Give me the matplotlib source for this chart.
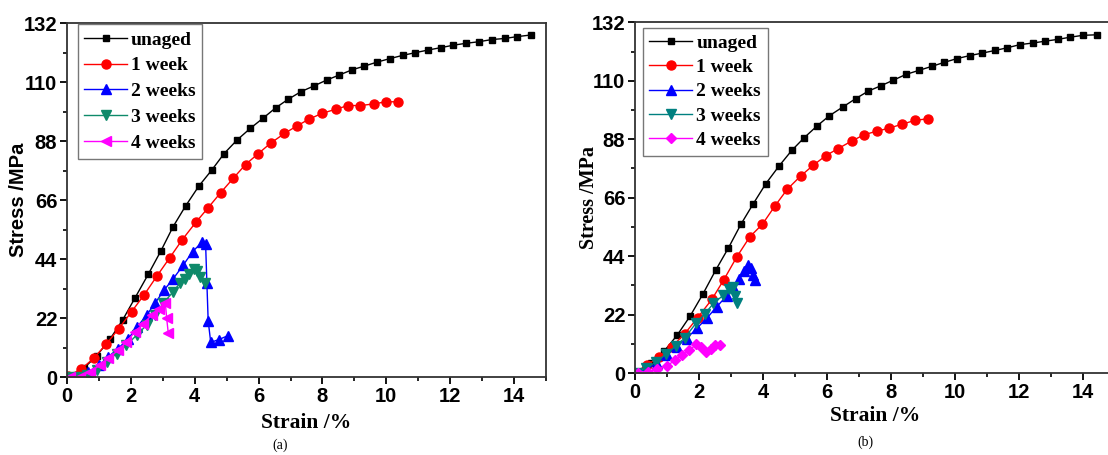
import matplotlib
matplotlib.use("Agg")
import matplotlib.pyplot as plt
from matplotlib.ticker import MultipleLocator

# ---- panel (a) data ----
a_unaged_x = [0.0, 0.13, 0.53, 0.93, 1.34, 1.74, 2.13, 2.54, 2.94, 3.32, 3.71, 4.13, 4.53, 4.92, 5.32,
              5.74, 6.14, 6.53, 6.92, 7.33, 7.73, 8.13, 8.53, 8.92, 9.31, 9.71, 10.11, 10.51,
              10.90, 11.31, 11.71, 12.10, 12.49, 12.90, 13.30, 13.70, 14.10, 14.52]
a_unaged_y = [0.0, 0.6, 3.4, 8.0, 14.1, 21.3, 29.6, 38.3, 47.1, 56.1, 63.8, 71.3, 77.2, 83.4, 88.4,
              92.8, 96.6, 100.4, 103.6, 106.5, 108.6, 110.8, 112.7, 114.6, 116.0, 117.5, 118.8, 120.0,
              121.0, 122.0, 122.9, 123.8, 124.5, 125.1, 125.9, 126.3, 127.0, 127.6]
a_w1_x = [0.04, 0.44, 0.83, 1.22, 1.62, 2.02, 2.42, 2.82, 3.22, 3.61, 4.03, 4.42, 4.81, 5.20,
          5.59, 5.99, 6.38, 6.81, 7.20, 7.59, 7.99, 8.41, 8.80, 9.19, 9.60, 9.99, 10.38]
a_w1_y = [0.5, 3.0, 7.0, 12.2, 18.1, 24.4, 30.8, 37.8, 44.6, 51.3, 57.7, 63.2, 68.8, 74.1,
          79.3, 83.4, 87.3, 90.9, 93.7, 96.3, 98.4, 99.9, 101.3, 101.3, 101.9, 102.7, 102.7]
a_w2_x = [0.05, 0.35, 0.67, 1.00, 1.29, 1.60, 1.92, 2.20, 2.49, 2.75, 3.04, 3.33, 3.64, 3.93,
          4.24, 4.34, 4.38, 4.42, 4.50, 4.75, 5.04]
a_w2_y = [0.0, 0.1, 2.0, 4.5, 7.6, 10.7, 14.4, 18.8, 23.1, 27.5, 32.5, 36.8, 41.8, 46.8,
          50.5, 49.5, 35.0, 21.0, 13.0, 14.0, 15.5]
a_w3_x = [0.05, 0.35, 0.62, 0.93, 1.24, 1.55, 1.86, 2.18, 2.49, 2.75, 3.01, 3.32, 3.53, 3.70,
          3.82, 3.97, 4.08, 4.16, 4.31]
a_w3_y = [0.0, 0.1, 0.7, 2.8, 5.7, 8.8, 11.9, 15.7, 19.4, 23.1, 27.5, 31.8, 35.0, 36.5,
          38.5, 40.3, 39.5, 37.4, 35.0]
a_w4_x = [0.10, 0.40, 0.72, 1.03, 1.29, 1.60, 1.86, 2.13, 2.39, 2.65, 2.89, 3.08, 3.12, 3.17]
a_w4_y = [0.0, 0.1, 2.0, 4.5, 7.0, 10.1, 13.2, 16.9, 20.0, 23.1, 25.6, 27.5, 22.0, 16.5]

# ---- panel (b) data ----
b_unaged_x = [0.05, 0.50, 0.92, 1.32, 1.72, 2.12, 2.52, 2.92, 3.31, 3.70, 4.09, 4.50, 4.90, 5.29,
              5.68, 6.07, 6.49, 6.90, 7.29, 7.68, 8.07, 8.47, 8.87, 9.27, 9.66, 10.05, 10.47,
              10.85, 11.25, 11.63, 12.03, 12.43, 12.82, 13.23, 13.60, 14.00, 14.43]
b_unaged_y = [0.5, 3.9, 8.4, 14.3, 21.4, 29.7, 38.7, 47.1, 56.0, 63.8, 71.3, 77.9, 83.8, 88.6,
              92.9, 96.8, 100.1, 103.3, 106.1, 108.1, 110.2, 112.4, 113.9, 115.4, 116.9, 118.3, 119.5,
              120.4, 121.4, 122.4, 123.6, 124.2, 124.9, 125.6, 126.4, 127.1, 127.3]
b_w1_x = [0.0, 0.37, 0.76, 1.15, 1.56, 1.96, 2.40, 2.78, 3.18, 3.59, 3.98, 4.38, 4.76, 5.18,
          5.57, 5.96, 6.35, 6.77, 7.16, 7.55, 7.95, 8.33, 8.75, 9.15]
b_w1_y = [0.0, 3.0, 6.1, 9.9, 14.9, 20.9, 27.7, 35.2, 43.7, 51.3, 56.0, 63.0, 69.2, 74.2,
          78.2, 81.8, 84.5, 87.3, 89.7, 91.0, 92.2, 93.6, 95.1, 95.7]
b_w2_x = [0.05, 0.36, 0.68, 0.99, 1.30, 1.61, 1.93, 2.24, 2.55, 2.86, 3.07, 3.25, 3.40, 3.52,
          3.62, 3.70, 3.75]
b_w2_y = [0.0, 1.5, 3.6, 6.8, 9.9, 13.0, 16.8, 20.6, 24.9, 29.0, 32.5, 35.5, 38.5, 40.5,
          39.5, 37.0, 35.0]
b_w3_x = [0.05, 0.35, 0.66, 0.98, 1.28, 1.56, 1.90, 2.19, 2.45, 2.76, 2.95, 3.07, 3.12, 3.18]
b_w3_y = [0.0, 1.8, 4.2, 7.3, 10.2, 13.3, 18.7, 22.4, 26.2, 29.3, 31.5, 32.5, 29.0, 26.2]
b_w4_x = [0.10, 0.40, 0.70, 1.00, 1.25, 1.48, 1.70, 1.92, 2.06, 2.22, 2.36, 2.50, 2.66]
b_w4_y = [0.2, 0.6, 1.5, 2.8, 4.8, 6.8, 8.6, 10.9, 10.0, 8.0, 9.2, 10.6, 10.6]

labels = ["unaged", "1 week", "2 weeks", "3 weeks", "4 weeks"]
colors = ["black", "#ff0000", "#0000ff", "#0e8a6a", "#ff00ff"]
teal_b = "#008080"

plt.rcParams["font.family"] = ["Liberation Serif", "DejaVu Serif"]
sans = ["Liberation Sans", "DejaVu Sans"]
serif = ["Liberation Serif", "DejaVu Serif"]

fig = plt.figure(figsize=(11.08, 4.55), dpi=100)
ax1 = fig.add_axes([0.0605, 0.171, 0.4323, 0.778])
ax2 = fig.add_axes([0.5731, 0.180, 0.4332, 0.771])


def style_axis(ax, ylab_family, ylab_x, xlab_pad):
    ax.set_xlim(0, 15)
    ax.set_ylim(0, 132)
    ax.xaxis.set_major_locator(MultipleLocator(2))
    ax.xaxis.set_minor_locator(MultipleLocator(1))
    ax.yaxis.set_major_locator(MultipleLocator(22))
    ax.yaxis.set_minor_locator(MultipleLocator(11))
    ax.tick_params(which="major", direction="out", length=5, width=1.3, pad=2)
    ax.tick_params(which="minor", direction="out", length=3, width=1.2)
    for lab in ax.get_xticklabels() + ax.get_yticklabels():
        lab.set_family(sans)
        lab.set_fontweight("bold")
        lab.set_fontsize(14.5)
    for s in ax.spines.values():
        s.set_linewidth(1.3)
        s.set_color("#333333")
    ax.set_xlabel("Strain /%", fontsize=15.5, fontweight="bold", labelpad=xlab_pad)
    ax.set_ylabel("Stress /MPa", fontsize=14.5, fontweight="bold", family=ylab_family)
    ax.yaxis.set_label_coords(ylab_x, 0.5)


# panel (a)
ax1.plot(a_unaged_x, a_unaged_y, color=colors[0], marker="s", ms=5, lw=1, label=labels[0])
ax1.plot(a_w1_x, a_w1_y, color=colors[1], marker="o", ms=6.5, lw=1, label=labels[1])
ax1.plot(a_w2_x, a_w2_y, color=colors[2], marker="^", ms=6.5, lw=1, label=labels[2])
ax1.plot(a_w3_x, a_w3_y, color=colors[3], marker="v", ms=6.5, lw=1, label=labels[3])
ax1.plot(a_w4_x, a_w4_y, color=colors[4], marker="<", ms=6.5, lw=1, label=labels[4])
style_axis(ax1, sans, -0.081, 5)

# panel (b)
ax2.plot(b_unaged_x, b_unaged_y, color=colors[0], marker="s", ms=5, lw=1, label=labels[0])
ax2.plot(b_w1_x, b_w1_y, color=colors[1], marker="o", ms=6.5, lw=1, label=labels[1])
ax2.plot(b_w2_x, b_w2_y, color=colors[2], marker="^", ms=6.5, lw=1, label=labels[2])
ax2.plot(b_w3_x, b_w3_y, color=teal_b, marker="v", ms=6.5, lw=1, label=labels[3])
ax2.plot(b_w4_x, b_w4_y, color=colors[4], marker="D", ms=5.5, lw=1, label=labels[4])
style_axis(ax2, serif, -0.075, 3)

legend_anchor = {ax1: (0.022, 0.997), ax2: (0.016, 0.985)}
legend_spacing = {ax1: 0.42, ax2: 0.34}
for ax in (ax1, ax2):
    leg = ax.legend(loc="upper left", bbox_to_anchor=legend_anchor[ax],
                    fancybox=False, framealpha=1, edgecolor="#777777",
                    prop={"weight": "bold", "size": 14}, handlelength=2.2,
                    handletextpad=0.2, labelspacing=legend_spacing[ax],
                    borderpad=0.35, borderaxespad=0.0)
    leg.get_frame().set_linewidth(1.0)

fig.text(0.253, 0.022, "(a)", fontsize=10, ha="center", va="center")
fig.text(0.781, 0.029, "(b)", fontsize=10, ha="center", va="center")

fig.savefig("out.png", dpi=100)
